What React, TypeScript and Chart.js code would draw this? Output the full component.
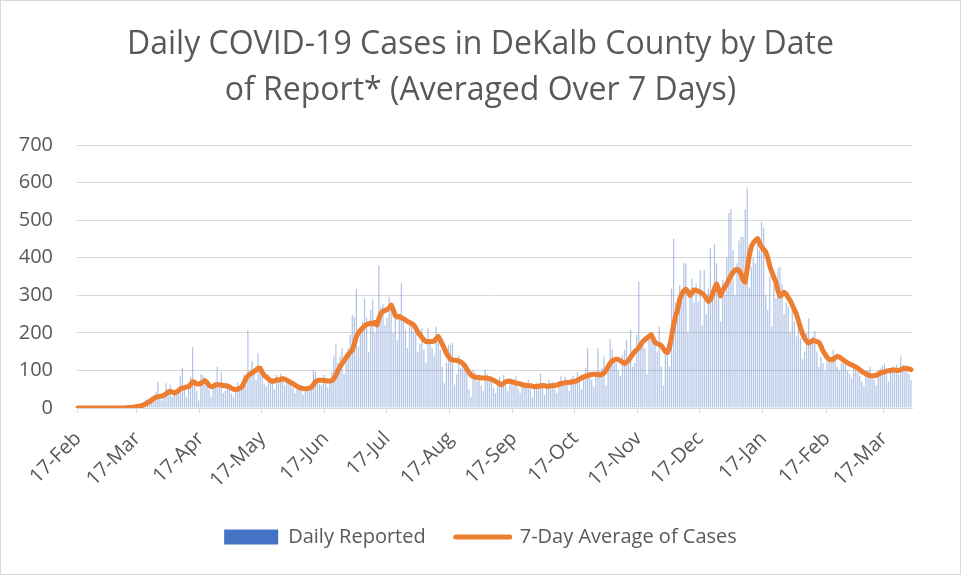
import { useEffect, useRef } from 'react';
import { Chart, registerables } from 'chart.js';

Chart.register(...registerables);

// First reported date; one category per day through 30-Mar-2021
const startDate = '2020-02-17';
const monthNames = ['Jan', 'Feb', 'Mar', 'Apr', 'May', 'Jun', 'Jul', 'Aug', 'Sep', 'Oct', 'Nov', 'Dec'];

const titleLines = ['Daily COVID-19 Cases in DeKalb County by Date', 'of Report* (Averaged Over 7 Days)'];
const yTicks = [0, 100, 200, 300, 400, 500, 600, 700];

// Daily reported cases (one value per day from 17-Feb-2020)
const dailyReported = [
  0, 0, 0, 0, 0, 0, 0, 0, 0, 0,
  0, 0, 0, 0, 0, 0, 0, 0, 0, 0,
  1, 0, 2, 1, 3, 2, 4, 5, 3, 8,
  10, 12, 15, 22, 25, 18, 30, 35, 42, 69,
  28, 20, 38, 66, 45, 62, 30, 35, 44, 55,
  84, 106, 48, 30, 58, 84, 162, 70, 45, 20,
  90, 88, 62, 55, 50, 30, 64, 70, 109, 60,
  95, 40, 45, 68, 60, 38, 30, 50, 68, 55,
  62, 90, 60, 208, 80, 126, 95, 75, 146, 100,
  85, 65, 58, 90, 72, 80, 50, 88, 75, 91,
  80, 60, 75, 70, 62, 55, 40, 65, 58, 50,
  35, 45, 55, 60, 48, 102, 97, 75, 65, 60,
  88, 80, 55, 70, 95, 137, 170, 120, 137, 159,
  90, 130, 160, 195, 248, 243, 317, 164, 200, 230,
  292, 240, 150, 261, 289, 200, 230, 380, 270, 276,
  220, 240, 296, 260, 199, 243, 180, 250, 332, 243,
  210, 160, 230, 221, 204, 212, 150, 172, 212, 155,
  120, 212, 180, 160, 140, 217, 190, 155, 110, 66,
  120, 168, 168, 173, 62, 90, 140, 106, 115, 110,
  93, 50, 30, 102, 95, 71, 88, 60, 45, 102,
  90, 71, 84, 55, 40, 75, 84, 70, 88, 60,
  45, 80, 75, 60, 86, 52, 40, 70, 66, 60,
  75, 50, 30, 62, 68, 58, 91, 55, 35, 60,
  75, 66, 70, 50, 40, 72, 86, 68, 84, 60,
  45, 80, 86, 70, 95, 72, 50, 90, 106, 159,
  95, 75, 55, 90, 159, 100, 106, 137, 60, 110,
  183, 157, 130, 120, 100, 85, 140, 155, 181, 130,
  208, 110, 120, 195, 336, 164, 186, 160, 90, 195,
  200, 186, 172, 150, 217, 110, 60, 150, 172, 110,
  318, 451, 280, 240, 327, 300, 385, 385, 200, 300,
  345, 280, 330, 283, 367, 220, 367, 250, 318, 427,
  290, 436, 385, 300, 230, 340, 300, 400, 519, 528,
  420, 300, 385, 445, 456, 455, 528, 584, 320, 376,
  400, 385, 450, 420, 496, 480, 300, 261, 350, 217,
  330, 292, 372, 376, 330, 250, 280, 270, 200, 260,
  230, 190, 217, 186, 130, 150, 200, 239, 170, 190,
  204, 150, 110, 137, 120, 100, 137, 130, 120, 155,
  128, 110, 100, 120, 125, 115, 100, 90, 80, 110,
  100, 95, 85, 70, 60, 90, 100, 110, 80, 75,
  60, 100, 106, 112, 118, 90, 70, 100, 110, 105,
  115, 90, 137, 115, 110, 100, 90, 75,
];

// 7-day average of cases
const sevenDayAverage = [
  0, 0, 0, 0, 0, 0, 0, 0, 0, 0,
  0, 0, 0, 0, 0, 0, 0, 0, 0, 0,
  0, 0, 0, 0, 1, 1, 1, 2, 3, 4,
  5, 6, 8, 11, 14, 17, 21, 25, 28, 30,
  31, 32, 34, 38, 42, 44, 42, 40, 42, 46,
  51, 53, 54, 56, 57, 62, 70, 68, 64, 64,
  65, 69, 73, 68, 60, 57, 58, 61, 62, 62,
  61, 60, 59, 58, 56, 53, 50, 49, 50, 53,
  56, 66, 78, 85, 90, 94, 97, 101, 106, 106,
  95, 87, 82, 78, 73, 71, 72, 75, 74, 76,
  78, 77, 74, 71, 68, 65, 61, 58, 55, 53,
  52, 51, 52, 53, 55, 62, 70, 73, 74, 74,
  73, 73, 72, 72, 73, 78, 88, 100, 110, 118,
  126, 134, 142, 148, 154, 170, 190, 200, 207, 213,
  218, 222, 224, 226, 224, 228, 221, 238, 252, 257,
  260, 262, 266, 274, 262, 246, 242, 244, 240, 238,
  234, 230, 228, 225, 221, 213, 203, 195, 188, 181,
  177, 176, 177, 177, 178, 185, 190, 181, 170, 158,
  146, 137, 130, 128, 127, 127, 125, 123, 118, 113,
  103, 95, 88, 84, 82, 81, 81, 80, 80, 80,
  79, 78, 76, 74, 71, 68, 64, 62, 66, 70,
  71, 71, 70, 68, 66, 65, 64, 62, 61, 60,
  59, 59, 58, 57, 57, 58, 59, 60, 59, 58,
  58, 59, 59, 60, 61, 63, 65, 66, 67, 68,
  68, 69, 70, 71, 74, 77, 80, 82, 84, 86,
  88, 89, 90, 90, 89, 88, 89, 93, 100, 110,
  119, 125, 128, 130, 129, 126, 122, 119, 122, 127,
  135, 143, 150, 155, 160, 170, 177, 182, 186, 191,
  195, 185, 174, 171, 169, 166, 158, 150, 148, 160,
  190, 220, 245, 262, 290, 303, 312, 316, 310, 300,
  306, 314, 313, 311, 308, 305, 300, 292, 284, 288,
  303, 318, 330, 316, 298, 312, 322, 330, 342, 352,
  360, 367, 369, 366, 356, 340, 335, 370, 405, 430,
  440, 446, 451, 440, 428, 422, 416, 400, 378, 362,
  348, 335, 312, 298, 302, 308, 303, 294, 286, 274,
  262, 250, 232, 214, 198, 186, 178, 173, 176, 180,
  178, 177, 175, 165, 152, 143, 135, 130, 128, 130,
  134, 137, 136, 132, 128, 124, 120, 117, 115, 112,
  109, 106, 102, 97, 94, 91, 88, 86, 86, 86,
  87, 90, 93, 95, 96, 98, 99, 100, 101, 101,
  100, 100, 102, 104, 106, 105, 104, 102,
];

const seriesNames = ['Daily Reported', '7-Day Average of Cases'];

function buildDates(start: string, count: number): Date[] {
  const out: Date[] = [];
  const base = new Date(start + 'T00:00:00Z').getTime();
  for (let i = 0; i < count; i++) out.push(new Date(base + i * 86400000));
  return out;
}

const TEXT = '#595959';
const GRID = '#d9d9d9';
const FONT = "'Open Sans', sans-serif";

export default function App() {
  const ref = useRef<HTMLCanvasElement | null>(null);

  useEffect(() => {
    document.body.style.margin = '0';
    const dates = buildDates(startDate, dailyReported.length);
    const labels = dates.map((d) => `${d.getUTCDate()}-${monthNames[d.getUTCMonth()]}`);
    const isTickDay = (i: number) => i >= 0 && i < dates.length && dates[i].getUTCDate() === 17;

    const borderPlugin = {
      id: 'frame',
      beforeDraw(chart: any) {
        const { ctx, width, height } = chart;
        ctx.save();
        ctx.fillStyle = '#ffffff';
        ctx.fillRect(0, 0, width, height);
        ctx.strokeStyle = GRID;
        ctx.lineWidth = 1;
        ctx.strokeRect(0.5, 0.5, width - 1, height - 1);
        ctx.restore();
      },
    };

    const chart = new Chart(ref.current as HTMLCanvasElement, {
      type: 'bar',
      data: {
        labels,
        datasets: [
          {
            type: 'bar',
            label: seriesNames[0],
            data: dailyReported,
            backgroundColor: 'rgba(68,114,196,0.42)',
            borderWidth: 0,
            barPercentage: 0.6,
            categoryPercentage: 1,
            order: 2,
          },
          {
            type: 'line',
            label: seriesNames[1],
            data: sevenDayAverage,
            borderColor: '#ED7D31',
            backgroundColor: '#ED7D31',
            borderWidth: 5,
            pointRadius: 0,
            tension: 0,
            borderJoinStyle: 'round',
            borderCapStyle: 'round',
            order: 1,
          },
        ] as any,
      },
      options: {
        responsive: false,
        animation: false,
        events: [],
        layout: { padding: { left: 0, right: 0, top: 0, bottom: 18 } },
        plugins: {
          tooltip: { enabled: false },
          title: {
            display: true,
            text: titleLines,
            color: TEXT,
            font: { family: FONT, size: 32, weight: 'normal', lineHeight: 46 / 32 },
            padding: { top: 22, bottom: 31 },
          },
          legend: {
            position: 'bottom',
            labels: {
              color: TEXT,
              font: { family: FONT, size: 20 },
              usePointStyle: true,
              pointStyleWidth: 54,
              boxHeight: 15,
              padding: 30,
              generateLabels: (ch: any) => [
                {
                  text: ch.data.datasets[0].label,
                  fillStyle: '#4472C4',
                  strokeStyle: '#4472C4',
                  lineWidth: 0,
                  pointStyle: 'rect',
                  hidden: false,
                  datasetIndex: 0,
                  fontColor: TEXT,
                },
                {
                  text: ch.data.datasets[1].label,
                  fillStyle: '#ED7D31',
                  strokeStyle: '#ED7D31',
                  lineWidth: 5,
                  lineCap: 'round',
                  pointStyle: 'line',
                  hidden: false,
                  datasetIndex: 1,
                  fontColor: TEXT,
                },
              ],
            },
          },
        },
        scales: {
          x: {
            type: 'category',
            offset: true,
            afterFit: (s: any) => {
              s.height = 89;
            },
            grid: {
              offset: true,
              drawOnChartArea: false,
              drawTicks: true,
              tickLength: 5,
              tickWidth: 1,
              tickColor: (c: any) => (isTickDay(c.index) ? GRID : 'rgba(0,0,0,0)'),
            },
            border: { display: true, color: GRID, width: 1 },
            ticks: {
              autoSkip: false,
              minRotation: 45,
              maxRotation: 45,
              padding: 14,
              color: TEXT,
              font: { family: FONT, size: 20 },
              callback: (_v: any, i: number) => (isTickDay(i) ? labels[i] : ''),
            },
          },
          y: {
            min: yTicks[0],
            max: yTicks[yTicks.length - 1],
            afterFit: (s: any) => {
              s.width = 77;
            },
            afterBuildTicks: (s: any) => {
              s.ticks = yTicks.map((v) => ({ value: v }));
            },
            grid: { color: GRID, lineWidth: 1, drawTicks: false },
            border: { display: false },
            ticks: {
              padding: 24,
              color: TEXT,
              font: { family: FONT, size: 20 },
            },
          },
          // empty right gutter so the plot ends where the reference's does
          gutter: {
            type: 'linear',
            position: 'right',
            display: true,
            afterFit: (s: any) => {
              s.width = 49;
            },
            grid: { display: false, drawTicks: false },
            border: { display: false },
            ticks: { display: false },
          },
        },
      },
      plugins: [borderPlugin],
    } as any);

    return () => chart.destroy();
  }, []);

  return (
    <div style={{ width: 961, height: 575, position: 'relative' }}>
      <canvas ref={ref} width={961} height={575} style={{ width: 961, height: 575, display: 'block' }} />
    </div>
  );
}
